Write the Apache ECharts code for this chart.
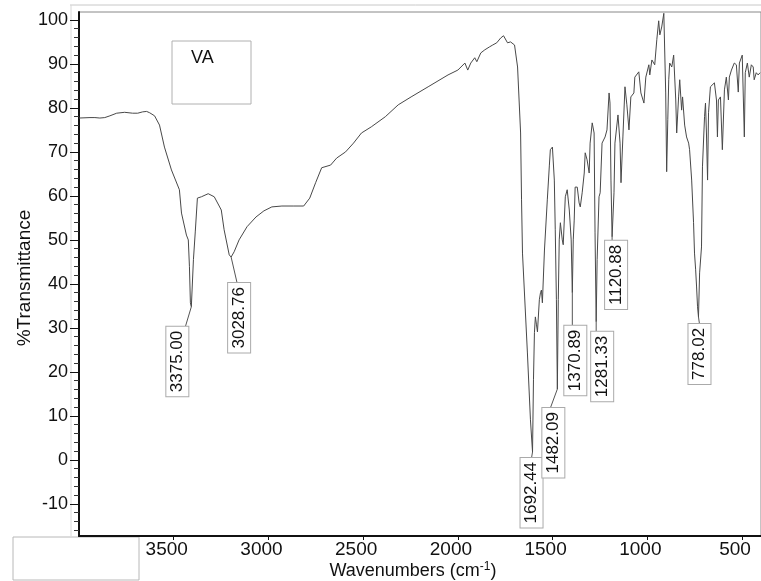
<!DOCTYPE html>
<html>
<head>
<meta charset="utf-8">
<title>VA - IR spectrum</title>
<script src="https://cdn.jsdelivr.net/npm/echarts@6/dist/echarts.min.js"></script>
<style>
  html, body { margin: 0; padding: 0; background: #fff; }
  #myChart { width: 761px; height: 581px; }
</style>
</head>
<body>
<div id="myChart"></div>
<script>
// spectrum: wavenumber (cm-1) and %T
var wavenumbers = [
  4000, 3942, 3916, 3890, 3864, 3837, 3801, 3759, 3717, 3690, 3664, 3643, 3627, 3601, 3575, 3549,
  3512, 3470, 3459, 3433, 3428, 3423, 3417, 3412, 3407, 3396, 3386, 3375, 3354, 3318, 3286, 3260,
  3249, 3234, 3207, 3197, 3181, 3155, 3113, 3066, 3024, 2982, 2929, 2866, 2814, 2782, 2751, 2719,
  2672, 2640, 2593, 2551, 2509, 2457, 2383, 2315, 2247, 2157, 2052, 2000, 1963, 1948, 1932, 1911,
  1900, 1879, 1858, 1832, 1816, 1795, 1774, 1759, 1738, 1722, 1701, 1685, 1669, 1664, 1659, 1633,
  1617, 1606, 1601, 1596, 1591, 1585, 1580, 1570, 1564, 1559, 1554, 1543, 1528, 1517, 1512, 1501,
  1491, 1486, 1480, 1475, 1470, 1465, 1459, 1449, 1444, 1433, 1423, 1412, 1402, 1396, 1391, 1386,
  1381, 1370, 1360, 1354, 1344, 1333, 1328, 1318, 1307, 1302, 1291, 1281, 1276, 1270, 1265, 1255,
  1249, 1239, 1223, 1213, 1202, 1197, 1192, 1186, 1176, 1171, 1155, 1144, 1139, 1129, 1118, 1108,
  1097, 1087, 1071, 1066, 1045, 1034, 1018, 1008, 992, 987, 976, 961, 950, 940, 934, 924,
  913, 908, 903, 898, 892, 887, 882, 871, 861, 850, 845, 835, 829, 819, 814, 803,
  793, 782, 777, 766, 756, 751, 745, 740, 735, 730, 724, 714, 709, 698, 693, 688,
  682, 677, 667, 646, 635, 630, 625, 614, 604, 593, 583, 572, 567, 556, 546, 541,
  530, 520, 514, 499, 488, 483, 472, 462, 451, 441, 436, 425, 415, 405
];
var transmittance = [
  77.7, 77.8, 77.8, 77.7, 77.8, 78.2, 78.8, 79.0, 78.8, 78.8, 79.1, 79.2, 78.9, 78.2, 76.1, 71.1,
  65.9, 61.4, 56.1, 51.1, 50.7, 50.0, 43.9, 35.7, 34.8, 45.5, 52.0, 59.5, 59.8, 60.5, 59.8, 57.7,
  56.8, 52.3, 46.6, 46.1, 47.3, 50.0, 53.0, 55.2, 56.6, 57.5, 57.7, 57.7, 57.7, 59.5, 63.0, 66.4,
  67.0, 68.6, 70.0, 72.0, 74.3, 75.7, 78.0, 80.7, 82.5, 84.8, 87.5, 88.6, 90.2, 88.6, 90.2, 91.4,
  90.5, 92.5, 93.2, 93.9, 94.3, 94.8, 95.9, 96.4, 94.8, 95.0, 94.3, 89.3, 74.3, 59.1, 47.0, 24.3,
  9.1, 1.8, 18.2, 28.9, 32.5, 30.7, 29.1, 36.4, 38.0, 38.6, 35.7, 47.7, 59.1, 67.0, 70.5, 71.1,
  63.6, 52.3, 36.4, 16.1, 36.4, 50.0, 53.9, 50.0, 48.9, 59.8, 61.4, 56.8, 50.0, 38.0, 50.0, 54.5,
  62.0, 62.0, 58.4, 57.5, 60.7, 65.2, 69.8, 68.2, 65.2, 72.0, 76.6, 74.3, 51.6, 31.4, 45.5, 59.8,
  60.7, 72.0, 73.4, 75.0, 83.4, 81.1, 63.6, 50.7, 60.7, 72.0, 78.4, 72.0, 63.0, 73.4, 84.8, 80.7,
  75.0, 82.5, 83.4, 87.0, 88.2, 83.4, 81.1, 87.0, 89.8, 87.5, 90.9, 89.8, 95.5, 99.8, 96.6, 98.4,
  101.5, 101.4, 83.4, 65.5, 77.3, 86.4, 90.2, 89.3, 92.0, 81.8, 74.3, 82.5, 86.4, 79.5, 82.5, 76.1,
  73.4, 72.0, 70.5, 63.6, 53.9, 47.0, 43.2, 39.3, 34.8, 32.5, 42.5, 48.4, 66.6, 78.0, 81.1, 74.3,
  63.6, 78.9, 84.8, 85.7, 81.8, 73.4, 81.8, 82.5, 70.5, 84.1, 87.0, 81.8, 87.0, 88.6, 88.2, 90.2,
  89.8, 83.6, 90.2, 92.0, 73.4, 88.0, 90.2, 87.0, 89.8, 89.3, 86.4, 88.0, 87.5, 88.0
];

// labelled peaks (text as printed, position where the leader starts)
var peakLabels = ['3375.00', '3028.76', '1692.44', '1482.09', '1370.89', '1281.33', '1120.88', '778.02'];
var peakWavenumbers = [3407, 3197, 1606, 1475, 1396, 1270, 1186, 730];
var peakTransmittance = [34.8, 46.1, 1.8, 16.1, 38.0, 31.4, 50.7, 32.5];

// tick labels
var xTickValues = [3500, 3000, 2500, 2000, 1500, 1000, 500];
var yTickValues = [-10, 0, 10, 20, 30, 40, 50, 60, 70, 80, 90, 100];
var yMinorTicks = [-16, -14, -12, -8, -6, -4, -2, 2, 4, 6, 8, 12, 14, 16, 18, 22, 24, 26, 28,
  32, 34, 36, 38, 42, 44, 46, 48, 52, 54, 56, 58, 62, 64, 66, 68, 72, 74, 76, 78, 82, 84, 86, 88,
  92, 94, 96, 98];

var FONT = 'Liberation Sans, Arial, sans-serif';

// label box placement relative to the peak, in px: [dx, gap below peak, leader end dx]
var labelLayout = [
  [-14, 20, 8], [8, 26, -2], [-1, 6, 0], [-4, 19, -3],
  [3, 33, -3], [6, 10, -6], [4, 4, -4], [1, 7, 0]
];

var spectrum = wavenumbers.map(function (w, i) { return [w, transmittance[i]]; });
var peaks = peakWavenumbers.map(function (w, i) { return [w, peakTransmittance[i]]; });

var chart = echarts.init(document.getElementById('myChart'));

chart.setOption({
  animation: false,
  backgroundColor: '#fff',
  grid: {
    left: 79, right: -4, top: 12, bottom: 45,
    show: true, borderColor: '#888', borderWidth: 1
  },
  xAxis: {
    type: 'value',
    inverse: true,
    min: 400,
    max: 4000,
    axisLine: { show: true, onZero: false, lineStyle: { color: '#111', width: 2 } },
    axisTick: { show: true, customValues: xTickValues, length: 4, lineStyle: { color: '#111' } },
    axisLabel: {
      customValues: xTickValues,
      formatter: function (v) { return String(v); },
      fontSize: 19, fontFamily: FONT, color: '#111',
      margin: 4, padding: [0, 14, 0, 0]
    },
    splitLine: { show: false }
  },
  yAxis: [
    {
      type: 'value',
      min: -17.3,
      max: 101.8,
      axisLine: { show: true, onZero: false, lineStyle: { color: '#111', width: 2 } },
      axisTick: { show: true, customValues: yTickValues, length: 9, lineStyle: { color: '#111' } },
      axisLabel: { customValues: yTickValues, fontSize: 18, fontFamily: FONT, color: '#111', margin: 11 },
      splitLine: { show: false }
    },
    {
      type: 'value',
      position: 'left',
      min: -17.3,
      max: 101.8,
      axisLine: { show: false },
      axisTick: { show: true, customValues: yMinorTicks, length: 5, lineStyle: { color: '#333' } },
      axisLabel: { show: false },
      splitLine: { show: false }
    }
  ],
  graphic: [
    // outer frame of the print
    { type: 'line', shape: { x1: 70, y1: 5, x2: 761, y2: 5 }, style: { stroke: '#c8c8c8', lineWidth: 1 } },
    { type: 'line', shape: { x1: 71, y1: 5, x2: 71, y2: 536 }, style: { stroke: '#d8d8d8', lineWidth: 1 } },
    // sample name box
    { type: 'rect', shape: { x: 172, y: 41, width: 79, height: 63 }, style: { fill: '#fff', stroke: '#b0b0b0', lineWidth: 1 } },
    { type: 'text', x: 191, y: 49, style: { text: 'VA', fontSize: 18, fontFamily: FONT, fill: '#111' } },
    // empty box bottom left
    { type: 'rect', shape: { x: 13, y: 537, width: 126, height: 43 }, style: { fill: '#fff', stroke: '#b8b8b8', lineWidth: 1 } },
    // axis titles
    {
      type: 'text', x: 25, y: 278, rotation: Math.PI / 2,
      style: { text: '%Transmittance', fontSize: 19, fontFamily: FONT, fill: '#111', align: 'center', verticalAlign: 'middle' }
    },
    {
      type: 'text', x: 413, y: 571,
      style: {
        text: '{a|Wavenumbers (cm}{s|-1}{a|)}',
        align: 'center', verticalAlign: 'middle',
        rich: {
          a: { fontSize: 18, fontFamily: FONT, fill: '#111', lineHeight: 20 },
          s: { fontSize: 12, fontFamily: FONT, fill: '#111', verticalAlign: 'top', lineHeight: 20 }
        }
      }
    }
  ],
  series: [
    {
      name: 'VA',
      type: 'line',
      data: spectrum,
      symbol: 'none',
      lineStyle: { color: '#484848', width: 1 },
      z: 3
    },
    {
      name: 'peaks',
      type: 'custom',
      data: peaks,
      z: 4,
      renderItem: function (params, api) {
        var i = params.dataIndex;
        var p = api.coord([api.value(0), api.value(1)]);
        var lay = labelLayout[i];
        var ax = p[0] + lay[0];
        var ay = p[1] + lay[1];
        return {
          type: 'group',
          children: [
            {
              type: 'line',
              shape: { x1: p[0], y1: p[1], x2: ax + lay[2], y2: ay },
              style: { stroke: '#555', lineWidth: 1 }
            },
            {
              type: 'text',
              x: ax, y: ay,
              rotation: Math.PI / 2,
              style: {
                text: peakLabels[i],
                align: 'right', verticalAlign: 'middle',
                fontSize: 17, fontFamily: FONT, fill: '#111',
                backgroundColor: '#fff', borderColor: '#aaa', borderWidth: 1,
                padding: [3, 4, 2, 4]
              }
            }
          ]
        };
      }
    }
  ]
});
</script>
</body>
</html>
